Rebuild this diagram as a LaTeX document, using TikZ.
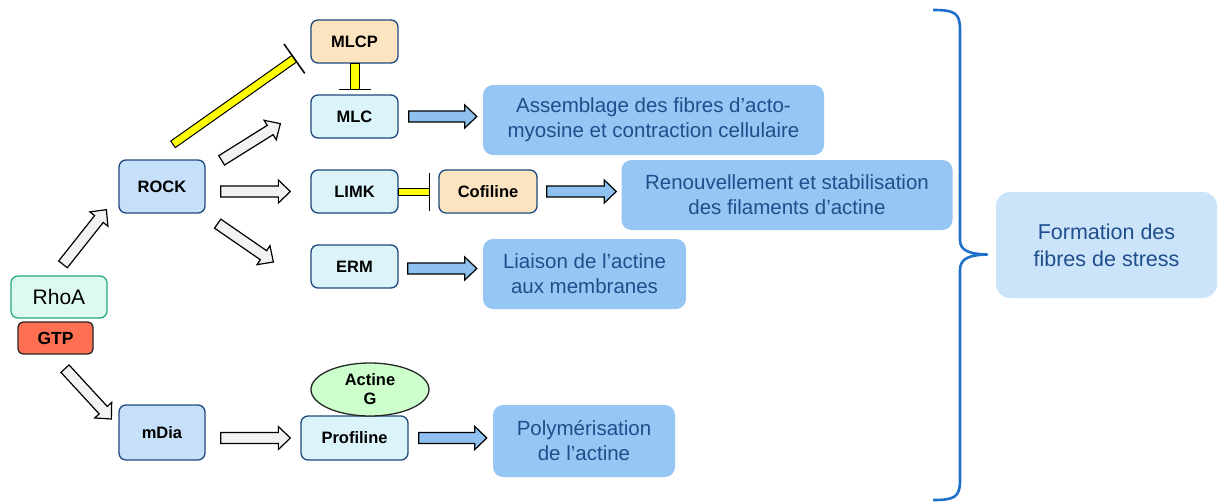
\documentclass[tikz,border=0pt]{standalone}
\usepackage{fontspec}
\setmainfont{Liberation Sans}
\usetikzlibrary{calc,shapes.geometric}
\definecolor{borderblue}{RGB}{31,73,125}
\definecolor{rockfill}{RGB}{198,224,250}
\definecolor{mlcfill}{RGB}{218,244,250}
\definecolor{orangefill}{RGB}{252,228,192}
\definecolor{resfill}{RGB}{150,198,244}
\definecolor{restext}{RGB}{31,78,140}
\definecolor{formfill}{RGB}{204,228,250}
\definecolor{grayarrow}{RGB}{242,242,242}
\definecolor{bluearrow}{RGB}{142,192,240}
\definecolor{bracecol}{RGB}{30,112,200}
\definecolor{greenfill}{RGB}{204,255,204}
\definecolor{mintfill}{RGB}{220,250,240}
\definecolor{mintborder}{RGB}{40,170,130}
\definecolor{gtpfill}{RGB}{255,112,82}
\definecolor{inhibyellow}{RGB}{255,255,0}
\newcommand\blockarr[3]{%
  \coordinate (ba-s) at #1;
  \coordinate (ba-e) at #2;
  \coordinate (ba-h) at ($(ba-e)!12pt!(ba-s)$);
  \draw[blockarrow, fill=#3] ($(ba-s)!5.5pt!90:(ba-e)$) -- ($(ba-h)!5.5pt!-90:(ba-s)$) -- ($(ba-h)!11.5pt!-90:(ba-s)$) -- (ba-e) -- ($(ba-h)!11.5pt!90:(ba-s)$) -- ($(ba-h)!5.5pt!90:(ba-s)$) -- ($(ba-s)!5.5pt!-90:(ba-e)$) -- cycle;}
\newcommand\inhibit[4]{% start, end, half width, half T length
  \coordinate (ib-s) at #1;
  \coordinate (ib-e) at #2;
  \draw[inhibbar] ($(ib-s)!#3!90:(ib-e)$) -- ($(ib-e)!#3!-90:(ib-s)$) -- ($(ib-e)!#3!90:(ib-s)$) -- ($(ib-s)!#3!-90:(ib-e)$) -- cycle;
  \draw[tbar] ($(ib-e)!#4!90:(ib-s)$) -- ($(ib-e)!#4!-90:(ib-s)$);}
\begin{document}
\begin{tikzpicture}[x=1pt,y=-1pt,
  lbl/.style={font=\fontsize{16.5}{19}\selectfont\bfseries, align=center, inner sep=0pt},
  box/.style={lbl, rounded corners=7pt, draw=borderblue, line width=1.3pt},
  rockbox/.style={box, fill=rockfill},
  mlcbox/.style={box, fill=mlcfill},
  orbox/.style={box, fill=orangefill},
  resbox/.style={rounded corners=10pt, fill=resfill, text=restext, align=center, inner sep=0pt,
     font=\fontsize{20.5}{25}\selectfont},
  blockarrow/.style={draw=black, line width=1.2pt, line join=miter},
  inhibbar/.style={draw=black, fill=inhibyellow, line width=1pt},
  tbar/.style={draw=black, line width=1.5pt}]
\useasboundingbox (0,0) rectangle (1218,501);
% nodes
\node[box, draw=mintborder, fill=mintfill, minimum width=96, minimum height=42,
  font=\fontsize{21}{24}\selectfont] (RhoA) at (59,297) {RhoA};
\node[box, draw=black!85, fill=gtpfill, minimum width=75, minimum height=32, rounded corners=5pt,
  font=\fontsize{17.5}{20}\selectfont\bfseries] (GTP) at (55.5,338) {GTP};
\node[rockbox, minimum width=86, minimum height=53] (ROCK) at (162,186.5) {ROCK};
\node[orbox, minimum width=87, minimum height=43] (MLCP) at (354.5,41.5) {MLCP};
\node[mlcbox, minimum width=87, minimum height=43] (MLC) at (354.5,116.5) {MLC};
\node[mlcbox, minimum width=87, minimum height=43] (LIMK) at (354.5,191.5) {LIMK};
\node[orbox, minimum width=98, minimum height=43] (Cofiline) at (488,191.5) {Cofiline};
\node[mlcbox, minimum width=87, minimum height=43] (ERM) at (354.5,266.5) {ERM};
\node[rockbox, minimum width=86, minimum height=55] (mDia) at (162,432.5) {mDia};
\node[mlcbox, minimum width=107, minimum height=44] (Profiline) at (354.5,438) {Profiline};
\node[ellipse, draw=black!85, line width=1.3pt, fill=greenfill, minimum width=118, minimum height=53,
  lbl, font=\fontsize{16.5}{19}\selectfont\bfseries] (ActineG) at (370,389.5) {Actine\\G};
\node[resbox, minimum width=341, minimum height=70] (Assemb) at (653.5,120)
  {Assemblage des fibres d’acto-\\myosine et contraction cellulaire};
\node[resbox, minimum width=331, minimum height=70] (Renouv) at (787,195)
  {Renouvellement et stabilisation\\des filaments d’actine};
\node[resbox, minimum width=203, minimum height=70] (Liaison) at (584.5,274)
  {Liaison de l’actine\\aux membranes};
\node[resbox, minimum width=182, minimum height=72] (Polym) at (584,441)
  {Polymérisation\\de l’actine};
\node[resbox, fill=formfill, minimum width=221, minimum height=106, rounded corners=14pt,
  font=\fontsize{21.5}{27}\selectfont] (Formation) at (1106.5,245)
  {Formation des\\fibres de stress};
% gray activation arrows
\blockarr{($(RhoA.north)+(4,-11)$)}{($(ROCK.south west)+(-12,-4)$)}{grayarrow}
\blockarr{($(ROCK.north east)+(16,1)$)}{($(MLC.south west)+(-30,-15)$)}{grayarrow}
\blockarr{($(ROCK.east |- LIMK.west)+(15,0)$)}{($(LIMK.west)+(-20,0)$)}{grayarrow}
\blockarr{($(ROCK.south east)+(12,10)$)}{($(ERM.west)+(-37,-4.5)$)}{grayarrow}
\blockarr{($(GTP.south)+(9.5,14)$)}{($(mDia.west)+(-7,-13.5)$)}{grayarrow}
\blockarr{($(mDia.east |- Profiline.west)+(15,0)$)}{($(Profiline.west)+(-10,0)$)}{grayarrow}
% blue arrows
\blockarr{($(MLC.east)+(10,0)$)}{($(Assemb.west |- MLC.east)+(-6,0)$)}{bluearrow}
\blockarr{($(Cofiline.east)+(9,0)$)}{($(Renouv.west |- Cofiline.east)+(-5,0)$)}{bluearrow}
\blockarr{($(ERM.east)+(9,2)$)}{($(Liaison.west |- ERM.east)+(-6,2)$)}{bluearrow}
\blockarr{($(Profiline.east)+(10,0)$)}{($(Polym.west |- Profiline.east)+(-6,0)$)}{bluearrow}
% inhibitions
\inhibit{($(ROCK.north)+(11,-15)$)}{($(MLCP.south west)+(-16,-5)$)}{4pt}{18pt}
\inhibit{(MLCP.south)}{($(MLC.north)+(0,-5)$)}{4.5pt}{16pt}
\inhibit{(LIMK.east)}{($(Cofiline.west)+(-9,0)$)}{3.5pt}{19pt}
% brace
\draw[bracecol, line width=2.6pt, line join=round]
  (933,10) .. controls (955,10) and (960,13) .. (960,30) -- (960,240)
  .. controls (960,251) and (970,254) .. (987,254.5)
  .. controls (970,255) and (960,258) .. (960,270) -- (960,480)
  .. controls (960,497) and (955,500) .. (933,500);
\end{tikzpicture}
\end{document}
